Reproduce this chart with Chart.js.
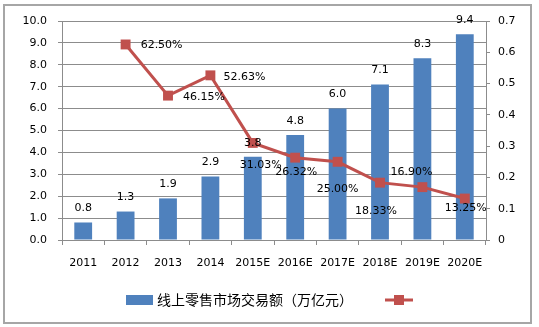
<!DOCTYPE html>
<html>
<head>
<meta charset="utf-8">
<script src="https://cdn.jsdelivr.net/npm/chart.js@4"></script>
<style>
  html, body { margin: 0; padding: 0; background: #fff; }
  #wrap { width: 539px; height: 327px; }
</style>
</head>
<body>
<div id="wrap"><canvas id="c" width="539" height="327"></canvas></div>
<script>
// data
const years = ["2011", "2012", "2013", "2014", "2015E", "2016E", "2017E", "2018E", "2019E", "2020E"];
const sales = [0.8, 1.3, 1.9, 2.9, 3.8, 4.8, 6.0, 7.1, 8.3, 9.4];
const growth = [null, 0.625, 0.4615, 0.5263, 0.3103, 0.2632, 0.25, 0.1833, 0.169, 0.1325];
const growthText = ["", "62.50%", "46.15%", "52.63%", "31.03%", "26.32%", "25.00%", "18.33%", "16.90%", "13.25%"];
const salesLabel = "线上零售市场交易额（万亿元）";

// where each % label sits relative to its point (dx, dy)
const labelOffsets = [[0, 0], [36, 1], [36, 2], [34, 2], [8, 22], [1, 14], [0, 27], [-4, 28], [-11, -15], [1, 10]];

const BLUE = "#4F81BD";
const RED = "#C0504D";
const GRID = "#8c8c8c";
const FONT = "'DejaVu Sans', Verdana, sans-serif";

const extras = {
  id: "extras",
  beforeDraw(chart) {
    const ctx = chart.ctx;
    ctx.save();
    ctx.fillStyle = "#fff";
    ctx.fillRect(0, 0, chart.width, chart.height);
    ctx.strokeStyle = "#a6a6a6";
    ctx.lineWidth = 2;
    ctx.strokeRect(4, 5, 527, 318);
    ctx.restore();
  },
  afterDatasetsDraw(chart) {
    const ctx = chart.ctx;
    ctx.save();
    ctx.font = "11px " + FONT;
    ctx.fillStyle = "#000";
    ctx.textAlign = "center";
    ctx.textBaseline = "middle";
    chart.getDatasetMeta(1).data.forEach((bar, i) => {
      ctx.fillText(sales[i].toFixed(1), bar.x, bar.y - 14);
    });
    chart.getDatasetMeta(0).data.forEach((pt, i) => {
      if (growth[i] == null) return;
      const [dx, dy] = labelOffsets[i];
      ctx.fillText(growthText[i], pt.x + dx, pt.y + dy);
    });

    // legend
    const ly = 300;
    ctx.fillStyle = BLUE;
    ctx.fillRect(126, ly - 5, 27, 10);
    ctx.fillStyle = "#000";
    ctx.textAlign = "left";
    ctx.font = "14px 'Noto Sans CJK SC', sans-serif";
    ctx.fillText(salesLabel, 157, ly);
    ctx.strokeStyle = RED;
    ctx.lineWidth = 3;
    ctx.beginPath();
    ctx.moveTo(385, ly);
    ctx.lineTo(413, ly);
    ctx.stroke();
    ctx.fillStyle = RED;
    ctx.fillRect(394, ly - 5, 10, 10);
    ctx.restore();
  }
};

new Chart(document.getElementById("c"), {
  type: "bar",
  data: {
    labels: years,
    datasets: [
      {
        type: "line",
        label: "增长率",
        data: growth,
        yAxisID: "y1",
        borderColor: RED,
        backgroundColor: RED,
        borderWidth: 3,
        pointStyle: "rect",
        pointRadius: 7,
        pointBorderWidth: 0,
        pointBackgroundColor: RED,
        tension: 0,
        order: 0
      },
      {
        label: salesLabel,
        data: sales,
        yAxisID: "y",
        backgroundColor: BLUE,
        barPercentage: 0.42,
        categoryPercentage: 1,
        order: 1
      }
    ]
  },
  options: {
    responsive: false,
    animation: false,
    layout: { padding: { top: 21, left: 0, right: 0, bottom: 0 } },
    plugins: { legend: { display: false }, tooltip: { enabled: false } },
    scales: {
      x: {
        afterFit: s => { s.height = 87; },
        grid: { drawOnChartArea: false, drawTicks: true, tickLength: 5, color: GRID, offset: true },
        border: { color: GRID },
        ticks: { color: "#000", font: { family: FONT, size: 11 }, padding: 12, maxRotation: 0 }
      },
      y: {
        position: "left",
        min: 0, max: 10,
        afterFit: s => { s.width = 62; },
        grid: { color: GRID, tickLength: 4 },
        border: { color: GRID },
        ticks: { stepSize: 1, color: "#000", font: { family: FONT, size: 11 }, padding: 11,
          callback: v => v.toFixed(1) }
      },
      y1: {
        position: "right",
        min: 0, max: 0.7,
        afterFit: s => { s.width = 53; },
        grid: { drawOnChartArea: false, tickLength: 4, color: GRID },
        border: { color: GRID },
        ticks: { stepSize: 0.1, color: "#000", font: { family: FONT, size: 11 }, padding: 8,
          callback: v => v === 0 ? "0" : v.toFixed(1) }
      }
    }
  },
  plugins: [extras]
});
</script>
</body>
</html>
